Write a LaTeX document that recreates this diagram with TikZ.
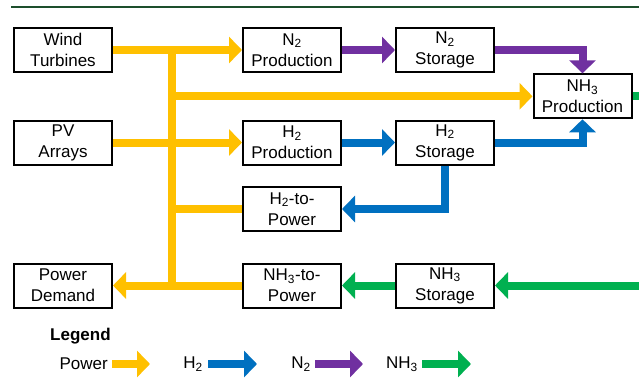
\documentclass[tikz,border=0pt]{standalone}
\usepackage{fontspec}
\setmainfont{Liberation Sans}
\usetikzlibrary{arrows.meta, positioning}
\definecolor{power}{HTML}{FFC000}
\definecolor{hydro}{HTML}{0070C0}
\definecolor{nitro}{HTML}{7030A0}
\definecolor{ammon}{HTML}{00B050}
\definecolor{rulegreen}{HTML}{1D4F2C}

\begin{document}
\begin{tikzpicture}[x=1pt, y=-1pt,
  unit/.style={draw, line width=2pt, minimum width=98pt, minimum height=44pt,
    inner sep=0pt, align=center, font=\fontsize{17}{21}\selectfont},
  pipe/.style={line width=8pt},
  flow/.style={pipe, -{Triangle[length=13pt, width=26pt]}},
  label/.style={inner sep=0pt, font=\fontsize{17}{21}\selectfont}]
  \useasboundingbox (0,0) rectangle (639,377);
  % Top rule
  \draw[rulegreen, line width=2pt] (11,7.5) -- (639,7.5);
  % Sources and demand
  \node[unit] (wind)   at (63,50)    {Wind\\Turbines};
  \node[unit] (pv)     at (63,142.5) {PV\\Arrays};
  \node[unit] (demand) at (63,285.5) {Power\\Demand};
  % Conversion units
  \node[unit] (n2prod) at (292,50)    {N\textsubscript{2}\\Production};
  \node[unit] (h2prod) at (292,142.5) {H\textsubscript{2}\\Production};
  \node[unit] (h2pow)  at (292,209)   {H\textsubscript{2}-to-\\Power};
  \node[unit] (nh3pow) at (292,285.5) {NH\textsubscript{3}-to-\\Power};
  % Storage
  \node[unit] (n2store)  at (445,50)    {N\textsubscript{2}\\Storage};
  \node[unit] (h2store)  at (445,142.5) {H\textsubscript{2}\\Storage};
  \node[unit] (nh3store) at (445,285.5) {NH\textsubscript{3}\\Storage};
  \node[unit] (nh3prod)  at (582.5,96.3) {NH\textsubscript{3}\\Production};
  % Power bus
  \coordinate (bustop) at (172,50);
  \coordinate (busbot) at (172,285.5);
  \draw[pipe, power] (bustop) -- (busbot);
  \draw[flow, power] (wind) -- (n2prod);
  \draw[flow, power] (pv) -- (h2prod);
  \draw[flow, power] (bustop |- nh3prod.west) -- (nh3prod.west);
  \draw[pipe, power] (h2pow.west) -- (bustop |- h2pow.west);
  \draw[flow, power] (nh3pow) -- (demand);
  % Nitrogen
  \draw[flow, nitro] (n2prod) -- (n2store);
  \draw[flow, nitro] (n2store.east) -| (nh3prod.north);
  % Hydrogen
  \draw[flow, hydro] (h2prod) -- (h2store);
  \draw[flow, hydro] (h2store.east) -| (nh3prod.south);
  \draw[flow, hydro] (h2store.south) |- (h2pow.east);
  % Ammonia
  \coordinate (edgeA) at (639,96.3);
  \coordinate (edgeB) at (639,285.5);
  \draw[pipe, ammon] (nh3prod.east) -- (edgeA);
  \draw[flow, ammon] (edgeB) -- (nh3store.east);
  \draw[flow, ammon] (nh3store) -- (nh3pow);
  % Legend
  \node[label, anchor=west, font=\fontsize{17}{21}\selectfont\bfseries]
    (legend) at (50,336) {Legend};
  \node[label, anchor=east] (lpower) at (108,364) {Power};
  \draw[flow, power] ([xshift=4pt]lpower.east) -- ++(38,0);
  \node[label, anchor=east] (lhydro) at (203,364) {H\textsubscript{2}};
  \draw[flow, hydro] ([xshift=5pt]lhydro.east) -- ++(49,0);
  \node[label, anchor=east] (lnitro) at (311,364) {N\textsubscript{2}};
  \draw[flow, nitro] ([xshift=4pt]lnitro.east) -- ++(48,0);
  \node[label, anchor=east] (lammon) at (418,364) {NH\textsubscript{3}};
  \draw[flow, ammon] ([xshift=4pt]lammon.east) -- ++(49,0);
\end{tikzpicture}
\end{document}
